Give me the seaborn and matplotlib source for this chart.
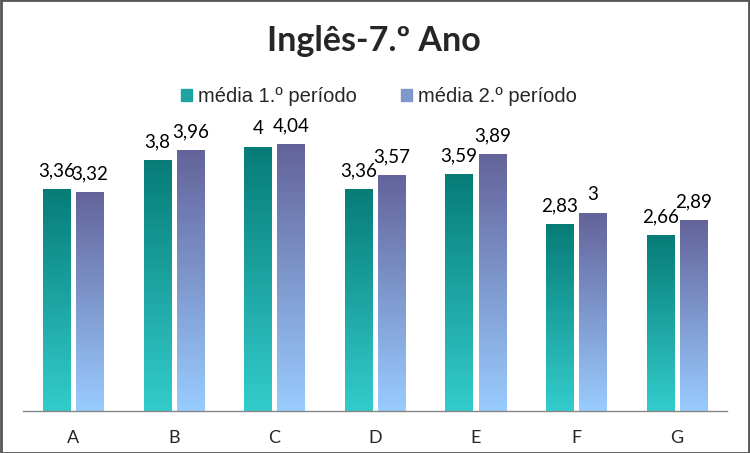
import pandas as pd
import numpy as np
import matplotlib.pyplot as plt
import matplotlib.colors as mcolors
import seaborn as sns

turmas = ["A", "B", "C", "D", "E", "F", "G"]
periodo1 = [3.36, 3.8, 4, 3.36, 3.59, 2.83, 2.66]
periodo2 = [3.32, 3.96, 4.04, 3.57, 3.89, 3, 2.89]
series = ["média 1.º período", "média 2.º período"]

df = pd.DataFrame({
    "turma": turmas * 2,
    "media": periodo1 + periodo2,
    "periodo": [series[0]] * len(turmas) + [series[1]] * len(turmas),
})

sns.set_style("white")
plt.rcParams["font.family"] = ["Lato", "DejaVu Sans"]

# gradientes (topo -> base)
grad = {
    series[0]: ("#077c77", "#33cccc"),
    series[1]: ("#63639a", "#99ccff"),
}

fig = plt.figure(figsize=(7.5, 4.53), dpi=100)
ax = fig.add_axes([23 / 750, 42 / 453, 704 / 750, 330 / 453])

sns.barplot(data=df, x="turma", y="media", hue="periodo",
            palette=[grad[s][1] for s in series], width=0.66,
            ax=ax, legend=False)

# barras mais estreitas com intervalo e gradiente
for container, s in zip(ax.containers, series):
    top_c, bot_c = grad[s]
    cmap = mcolors.LinearSegmentedColormap.from_list(s, [bot_c, top_c])
    for bar in container:
        cx = bar.get_x() + bar.get_width() / 2
        w = 0.27
        bar.set_x(cx - w / 2)
        bar.set_width(w)
        h = bar.get_height()
        img = ax.imshow(np.linspace(0, 1, 256).reshape(-1, 1), cmap=cmap,
                        origin="lower", aspect="auto",
                        extent=(cx - w / 2, cx + w / 2, 0, h), zorder=2)
        img.set_clip_path(bar)
        bar.set_facecolor("none")
        bar.set_edgecolor("none")
        lbl = f"{h:g}".replace(".", ",")
        ax.annotate(lbl, (cx, h), xytext=(0, 7), textcoords="offset points",
                    ha="center", va="bottom", fontsize=13.5, color="black")

ax.set_xlim(-0.5, len(turmas) - 0.5)
ax.set_ylim(0, 5)
ax.set_xlabel("")
ax.set_ylabel("")
ax.set_yticks([])
ax.tick_params(axis="x", length=0, labelsize=13, pad=14)
for sp in ["left", "right", "top"]:
    ax.spines[sp].set_visible(False)
ax.spines["bottom"].set_color("#868686")
ax.spines["bottom"].set_linewidth(1)

fig.text(0.498, 1 - 41 / 453, "Inglês-7.º Ano", ha="center", va="center",
         fontsize=24.5, fontweight="bold")

handles = [plt.Rectangle((0, 0), 1, 1, color=mcolors.to_hex(
    np.mean([mcolors.to_rgb(c) for c in grad[s]], axis=0))) for s in series]
fig.legend(handles, series, loc="center", bbox_to_anchor=(0.505, 1 - 97 / 453),
           ncol=2, frameon=False, handlelength=0.55, handleheight=0.55,
           handletextpad=0.3, columnspacing=2.2,
           prop={"family": ["Liberation Sans", "DejaVu Sans"], "size": 14.5})

fig.patches.append(plt.Rectangle((0.001, 0.001), 0.998, 0.998, transform=fig.transFigure,
                                 fill=False, edgecolor="#555555", linewidth=2))

fig.savefig("out.png", dpi=100)
